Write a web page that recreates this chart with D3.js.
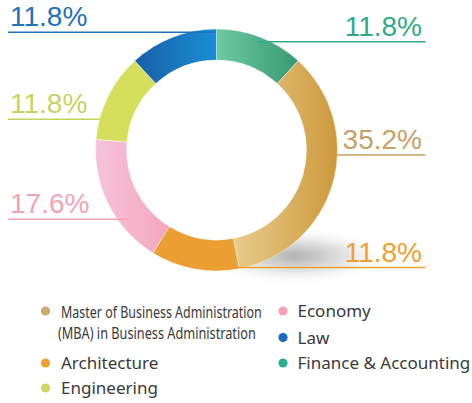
<!DOCTYPE html>
<html>
<head>
<meta charset="utf-8">
<script src="https://cdn.jsdelivr.net/npm/d3@7"></script>
<style>
  body { margin: 0; background: #fff; }
  svg { display: block; }
</style>
</head>
<body>
<svg id="chart"></svg>
<script>
// data, clockwise from 12 o'clock
const categories = ["Finance & Accounting", "Master of Business Administration (MBA) in Business Administration",
    "Architecture", "Economy", "Engineering", "Law"]
const shares = [11.8, 35.2, 11.8, 17.6, 11.8, 11.8]

const w = 472, h = 403
const cx = 216.5, cy = 150
const R = 121, r = 90

const colors = {
    "Finance & Accounting": ["#6ec9a1", "#379a73"],
    "Master of Business Administration (MBA) in Business Administration": ["#e8cd8c", "#cd983c"],
    "Architecture": ["#eb9f32", "#eb9f32"],
    "Economy": ["#f6c3da", "#f4a7bd"],
    "Engineering": ["#d5df5b", "#d5df5b"],
    "Law": ["#1a5ea8", "#188fd2"]
}
const textColors = {
    "Finance & Accounting": "#2fab8a",
    "Master of Business Administration (MBA) in Business Administration": "#c9a067",
    "Architecture": "#f0a030",
    "Economy": "#f5a3b3",
    "Engineering": "#c6d35f",
    "Law": "#1f72bd"
}
const dotColors = {
    "Finance & Accounting": "#2bb092",
    "Master of Business Administration (MBA) in Business Administration": "#d0a86a",
    "Architecture": "#f0a030",
    "Economy": "#f5a2b2",
    "Engineering": "#cbd864",
    "Law": "#1b6cc0"
}

// label layout: side, leader line y, and where the leader stops on the ring side
const labelLayout = [
    { side: "right", y: 41.7, x0: 257 },
    { side: "right", y: 155, x0: 337 },
    { side: "right", y: 267.5, x0: 238 },
    { side: "left", y: 219.3, x0: 128 },
    { side: "left", y: 119.3, x0: 100 },
    { side: "left", y: 32.3, x0: 215 }
]

const svg = d3.select("#chart")
    .attr("width", w)
    .attr("height", h)

const defs = svg.append("defs")

categories.forEach((c, i) => {
    const g = defs.append("linearGradient")
        .attr("id", "grad" + i)
        .attr("x1", 0).attr("x2", 1).attr("y1", 0).attr("y2", 0)
    g.append("stop").attr("offset", 0).attr("stop-color", colors[c][0])
    g.append("stop").attr("offset", 1).attr("stop-color", colors[c][1])
})

const shadowGrad = defs.append("radialGradient").attr("id", "shadow")
shadowGrad.append("stop").attr("offset", 0).attr("stop-color", "#8a8a8a").attr("stop-opacity", 0.75)
shadowGrad.append("stop").attr("offset", 0.6).attr("stop-color", "#b5b5b5").attr("stop-opacity", 0.35)
shadowGrad.append("stop").attr("offset", 1).attr("stop-color", "#fff").attr("stop-opacity", 0)

defs.append("filter").attr("id", "blur")
    .append("feGaussianBlur").attr("stdDeviation", 4)

// soft shadow under the lower right of the ring
svg.append("ellipse")
    .attr("cx", 295).attr("cy", 256)
    .attr("rx", 95).attr("ry", 26)
    .attr("fill", "url(#shadow)")
    .attr("filter", "url(#blur)")

const pie = d3.pie().sort(null).value(d => d)
const arcs = pie(shares)
const arc = d3.arc().innerRadius(r).outerRadius(R)

const ring = svg.append("g")
    .attr("transform", `translate(${cx},${cy})`)

ring.selectAll("path")
    .data(arcs)
    .join("path")
    .attr("d", arc)
    .attr("fill", (d, i) => `url(#grad${i})`)
    .attr("stroke", "#fff")
    .attr("stroke-width", 0.4)

// leader lines + percentages
const fmt = d => d.toFixed(1) + "%"
const labels = svg.append("g")

arcs.forEach((d, i) => {
    const lay = labelLayout[i]
    const c = textColors[categories[i]]
    const xa = lay.side == "right" ? lay.x0 : 8
    const xb = lay.side == "right" ? 425.5 : lay.x0
    labels.append("line")
        .attr("x1", xa).attr("x2", xb)
        .attr("y1", lay.y).attr("y2", lay.y)
        .attr("stroke", c)
        .attr("stroke-width", 1.4)
    labels.append("text")
        .attr("x", lay.side == "right" ? 422 : 10)
        .attr("y", lay.y - 6)
        .attr("text-anchor", lay.side == "right" ? "end" : "start")
        .attr("fill", c)
        .style("font-family", "'Liberation Sans', Arial, sans-serif")
        .style("font-size", "28px")
        .text(fmt(shares[i]))
})

// legend
const legendLeft = [categories[1], categories[2], categories[4]]
const legendRight = [categories[3], categories[5], categories[0]]
const leftY = [311, 363, 388]
const rightY = [311, 337.5, 363]
const mbaLines = ["Master of Business Administration", "(MBA) in Business Administration"]

const legend = svg.append("g")
    .style("font-family", "'Noto Sans', sans-serif")
    .attr("fill", "#3a3a3a")

// condensed two-line label, squeezed horizontally to the reference width
function condensed(txt, x, y, width) {
    const g = legend.append("g")
    const t = g.append("text")
        .attr("x", 0).attr("y", 0)
        .style("font-size", "17px")
        .text(txt)
    const k = width / t.node().getComputedTextLength()
    g.attr("transform", `translate(${x},${y}) scale(${k},1)`)
}

legendLeft.forEach((c, i) => {
    legend.append("circle")
        .attr("cx", 45.5).attr("cy", leftY[i]).attr("r", 4.6)
        .attr("fill", dotColors[c])
    if (i == 0) {
        condensed(mbaLines[0], 61, 318, 201)
        condensed(mbaLines[1], 58, 339, 198)
    } else {
        legend.append("text")
            .attr("x", 61).attr("y", leftY[i] + 6)
            .style("font-size", "17px")
            .text(c)
    }
})

legendRight.forEach((c, i) => {
    legend.append("circle")
        .attr("cx", 283).attr("cy", rightY[i]).attr("r", 4.6)
        .attr("fill", dotColors[c])
    legend.append("text")
        .attr("x", 297.5).attr("y", rightY[i] + 6)
        .style("font-size", "17px")
        .text(c)
})
</script>
</body>
</html>
